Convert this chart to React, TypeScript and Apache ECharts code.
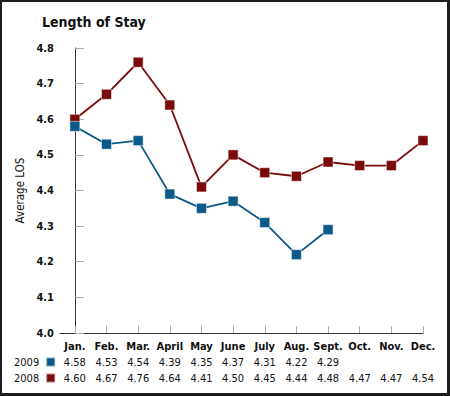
import React, { useEffect, useRef } from "react";
import * as echarts from "echarts";

const months = ["Jan.", "Feb.", "Mar.", "April", "May", "June", "July", "Aug.", "Sept.", "Oct.", "Nov.", "Dec."];
const los2009 = [4.58, 4.53, 4.54, 4.39, 4.35, 4.37, 4.31, 4.22, 4.29];
const los2008 = [4.6, 4.67, 4.76, 4.64, 4.41, 4.5, 4.45, 4.44, 4.48, 4.47, 4.47, 4.54];
const yTicks = [4.0, 4.1, 4.2, 4.3, 4.4, 4.5, 4.6, 4.7, 4.8];

const FONT = "'Liberation Sans Narrow', 'DejaVu Sans Condensed', sans-serif";
const RED = "#7a0b0b";
const BLUE = "#0b5a88";

export default function App() {
  const ref = useRef<HTMLDivElement>(null);
  useEffect(() => {
    if (!ref.current) return;
    const chart = echarts.init(ref.current, null, { renderer: "svg" });
    const idx = months.map((_, i) => i);
    chart.setOption({
      animation: false,
      textStyle: { fontFamily: FONT },
      title: {
        text: "Length of Stay",
        left: 37,
        top: 10,
        textStyle: { fontFamily: FONT, fontWeight: "bold", fontSize: 14, color: "#111" },
      },
      legend: {
        data: ["2009", "2008"],
        orient: "vertical",
        align: "right",
        left: 9,
        top: 351,
        icon: "rect",
        itemWidth: 9,
        itemHeight: 9,
        itemGap: 4,
        selectedMode: false,
        textStyle: { fontFamily: FONT, fontSize: 11, color: "#111", lineHeight: 12, padding: [0, 2, 0, 0] },
      },
      grid: { left: 60, right: 27, top: 48, bottom: 63, containLabel: false },
      xAxis: {
        type: "value",
        min: -0.47,
        max: 11,
        splitLine: { show: false },
        axisLine: { show: true, lineStyle: { color: "#333", width: 1 } },
        axisTick: { show: true, inside: true, length: 7, customValues: idx, lineStyle: { color: "#aaa" } },
        axisLabel: {
          customValues: idx,
          margin: 5,
          formatter: (v: number) => {
            const i = Math.round(v);
            const a = los2009[i] !== undefined ? los2009[i].toFixed(2) : " ";
            const b = los2008[i] !== undefined ? los2008[i].toFixed(2) : " ";
            return `{m|${months[i]}}\n{v|${a}}\n{v|${b}}`;
          },
          rich: {
            m: { fontFamily: FONT, fontWeight: "bold", fontSize: 11, lineHeight: 16, color: "#111" },
            v: { fontFamily: FONT, fontSize: 11, lineHeight: 16, color: "#111" },
          },
        },
      },
      yAxis: {
        type: "value",
        min: 4.0,
        max: 4.8,
        interval: 0.1,
        name: "Average LOS",
        nameLocation: "middle",
        nameRotate: 90,
        nameGap: 32,
        nameTextStyle: { fontFamily: FONT, fontSize: 11.5, color: "#111" },
        splitLine: { show: false },
        axisLine: { show: true, lineStyle: { color: "#333", width: 1 } },
        axisTick: { show: true, inside: true, length: 9, lineStyle: { color: "#aaa" } },
        axisLabel: {
          margin: 6,
          fontFamily: FONT,
          fontWeight: "bold",
          fontSize: 11,
          color: "#111",
          formatter: (v: number) => (yTicks.includes(Math.round(v * 10) / 10) ? v.toFixed(1) : ""),
        },
      },
      series: [
        {
          name: "2008",
          type: "line",
          data: los2008.map((v, i) => [i, v]),
          symbol: "rect",
          symbolSize: 10,
          itemStyle: { color: RED, borderColor: "rgba(255,255,255,0.5)", borderWidth: 1 },
          lineStyle: { color: RED, width: 1.8 },
        },
        {
          name: "2009",
          type: "line",
          data: los2009.map((v, i) => [i, v]),
          symbol: "rect",
          symbolSize: 10,
          itemStyle: { color: BLUE, borderColor: "rgba(255,255,255,0.5)", borderWidth: 1 },
          lineStyle: { color: BLUE, width: 1.8 },
        },
      ],
    });
    return () => chart.dispose();
  }, []);
  return (
    <div style={{ position: "fixed", left: 0, top: 0, width: 450, height: 396, background: "#fff" }}>
      <div ref={ref} style={{ position: "absolute", left: 0, top: 0, width: 450, height: 396 }} />
      <div
        style={{
          position: "absolute",
          left: 0,
          top: 0,
          width: 450,
          height: 396,
          boxSizing: "border-box",
          borderTop: "2px solid #1e1e1e",
          borderLeft: "2px solid #1e1e1e",
          borderRight: "3px solid #1e1e1e",
          borderBottom: "3px solid #1e1e1e",
          pointerEvents: "none",
        }}
      />
    </div>
  );
}
